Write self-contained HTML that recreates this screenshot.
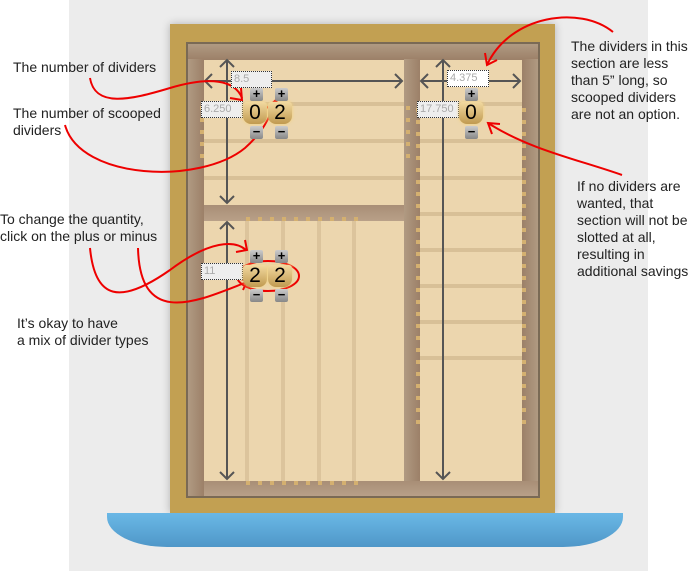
<!DOCTYPE html>
<html><head><style>
body{margin:0;width:689px;height:571px;position:relative;background:#fff;overflow:hidden;font-family:"Liberation Sans",sans-serif;}
div{position:absolute;box-sizing:border-box;}
.t{font-size:14px;line-height:17px;color:#222;white-space:nowrap;}
.in{background:#eee;border:1px dotted #333;font-size:11px;color:#aaa;padding:1px 2px;line-height:13px;}
.c{background:linear-gradient(#f2d9a0,#c09a50);border-radius:3px 3px 8px 8px;font-size:21px;line-height:22px;text-align:center;color:#000;width:24px;height:22px;box-shadow:0 0 3px #f3d27a;}
.b{width:13px;height:13px;background:linear-gradient(#ccc,#888);border-radius:2px;color:#000;font-size:13px;line-height:12px;text-align:center;font-weight:bold;}
.h{height:4px;background:#d8c097;}
.v{width:4px;background:#dcc49c;}
</style></head><body>
<div style="left:69px;top:0;width:579px;height:571px;background:#ececec"></div>
<div style="left:170px;top:24px;width:385px;height:489px;background:#c2a052;box-shadow:0 0 8px rgba(0,0,0,.25)"></div>
<div style="left:186px;top:42px;width:354px;height:456px;background:#ecd6ae;border:2px solid #7a6a55"></div>
<div class="h" style="left:204px;top:102px;width:200px"></div>
<div class="h" style="left:204px;top:139px;width:200px"></div>
<div class="h" style="left:204px;top:176px;width:200px"></div>
<div class="h" style="left:420px;top:102px;width:102px"></div>
<div class="h" style="left:420px;top:139px;width:102px"></div>
<div class="h" style="left:420px;top:176px;width:102px"></div>
<div class="h" style="left:420px;top:212px;width:102px"></div>
<div class="h" style="left:420px;top:248px;width:102px"></div>
<div class="h" style="left:420px;top:284px;width:102px"></div>
<div class="h" style="left:420px;top:320px;width:102px"></div>
<div class="h" style="left:420px;top:356px;width:102px"></div>
<div class="v" style="left:245px;top:221px;height:260px"></div>
<div class="v" style="left:281px;top:221px;height:260px"></div>
<div class="v" style="left:317px;top:221px;height:260px"></div>
<div class="v" style="left:352px;top:221px;height:260px"></div>
<div style="left:188px;top:44px;width:350px;height:16px;background:linear-gradient(#b09a82,#9c8068)"></div>
<div style="left:188px;top:59px;width:16px;height:437px;background:linear-gradient(90deg,#b09a82,#9c8068)"></div>
<div style="left:522px;top:59px;width:16px;height:422px;background:linear-gradient(90deg,#9c8068,#b09a82)"></div>
<div style="left:404px;top:59px;width:16px;height:422px;background:linear-gradient(90deg,#b09a82,#9c8068)"></div>
<div style="left:204px;top:205px;width:200px;height:16px;background:linear-gradient(#a88e76,#b8a088)"></div>
<div style="left:204px;top:481px;width:334px;height:15px;background:linear-gradient(#a88e76,#b8a088)"></div>
<div style="left:107px;top:513px;width:516px;height:34px;background:linear-gradient(#6ab8e6,#4f97c8);border-radius:0 0 60px 60px/0 0 30px 30px"></div>
<svg width="689" height="571" style="position:absolute;left:0;top:0" fill="none">
<g stroke="#d4b070" stroke-width="4" stroke-dasharray="4 8">
<line x1="408" y1="106" x2="408" y2="160"/><line x1="202" y1="106" x2="202" y2="160"/>
<line x1="418" y1="108" x2="418" y2="430"/><line x1="524" y1="108" x2="524" y2="430"/>
<line x1="246" y1="219" x2="360" y2="219"/><line x1="246" y1="483" x2="360" y2="483"/>
</g>
<g stroke="#555" stroke-width="2">
<line x1="227" y1="60" x2="227" y2="203"/><polyline points="220,67 227,60 234,67"/><polyline points="220,196 227,203 234,196"/>
<line x1="227" y1="222" x2="227" y2="479"/><polyline points="220,229 227,222 234,229"/><polyline points="220,472 227,479 234,472"/>
<line x1="205" y1="81" x2="402" y2="81"/><polyline points="212,74 205,81 212,88"/><polyline points="395,74 402,81 395,88"/>
<line x1="421" y1="81" x2="520" y2="81"/><polyline points="428,74 421,81 428,88"/><polyline points="513,74 520,81 513,88"/>
<line x1="443" y1="60" x2="443" y2="479"/><polyline points="436,67 443,60 450,67"/><polyline points="436,472 443,479 450,472"/>
</g>
<g stroke="#e00" stroke-width="2">
<path d="M90,78 C95,108 130,100 170,88 C210,76 235,80 242,98"/><polyline points="230,98 242,100 241,88"/>
<path d="M65,125 C80,180 200,185 245,148 C262,133 270,118 275,101"/><polyline points="267,108 276,100 279,111"/>
<path d="M90,248 C95,300 120,305 170,270 C210,240 235,240 246,250"/><polyline points="236,252 247,250 245,240"/>
<path d="M138,248 C140,330 200,300 247,282"/><polyline points="238,278 247,281 243,290"/>
<ellipse cx="268" cy="276" rx="31" ry="15"/>
<path d="M613,32 C580,5 510,15 487,65"/><polyline points="485,53 487,65 497,60"/>
<path d="M622,175 C580,160 530,150 488,123"/><polyline points="500,124 488,123 492,134"/>
</g>
</svg>
<div class="in" style="left:231px;top:71px;width:41px;height:17px">8.5</div>
<div class="in" style="left:201px;top:101px;width:42px;height:17px">6.250</div>
<div class="in" style="left:447px;top:70px;width:42px;height:17px;background:#fff">4.375</div>
<div class="in" style="left:417px;top:101px;width:42px;height:17px">17.750</div>
<div class="in" style="left:201px;top:263px;width:42px;height:17px">11</div>
<div class="c" style="left:243px;top:102px">0</div><div class="c" style="left:268px;top:102px">2</div>
<div class="c" style="left:459px;top:102px">0</div>
<div class="c" style="left:243px;top:265px">2</div><div class="c" style="left:268px;top:265px">2</div>
<div class="b" style="left:250px;top:88px">+</div><div class="b" style="left:275px;top:88px">+</div>
<div class="b" style="left:250px;top:126px">−</div><div class="b" style="left:275px;top:126px">−</div>
<div class="b" style="left:465px;top:88px">+</div><div class="b" style="left:465px;top:126px">−</div>
<div class="b" style="left:250px;top:250px">+</div><div class="b" style="left:275px;top:250px">+</div>
<div class="b" style="left:250px;top:289px">−</div><div class="b" style="left:275px;top:289px">−</div>
<div class="t" style="left:13px;top:59px">The number of dividers</div>
<div class="t" style="left:13px;top:105px">The number of scooped<br>dividers</div>
<div class="t" style="left:0px;top:211px">To change the quantity,<br>click on the plus or minus</div>
<div class="t" style="left:17px;top:315px">It’s okay to have<br>a mix of divider types</div>
<div class="t" style="left:571px;top:38px">The dividers in this<br>section are less<br>than 5” long, so<br>scooped dividers<br>are not an option.</div>
<div class="t" style="left:577px;top:178px">If no dividers are<br>wanted, that<br>section will not be<br>slotted at all,<br>resulting in<br>additional savings</div>
</body></html>
